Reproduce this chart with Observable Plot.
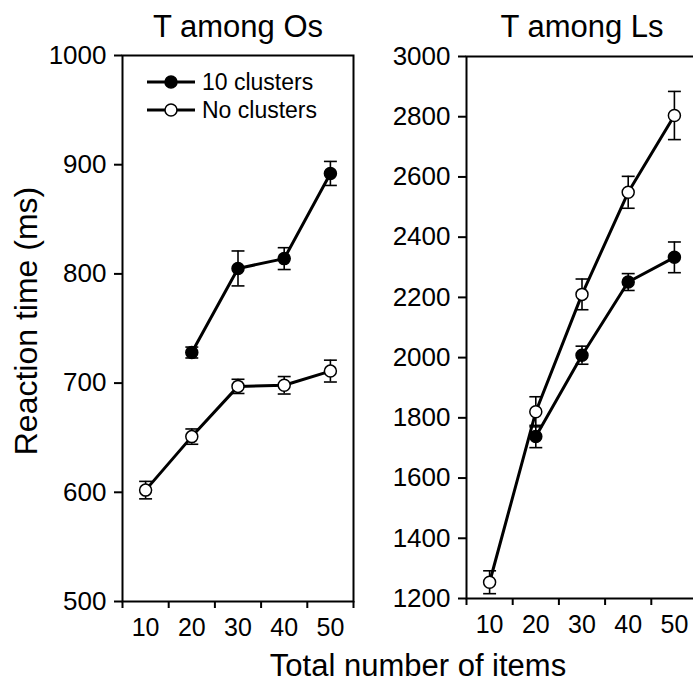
<!DOCTYPE html>
<html>
<head>
<meta charset="utf-8">
<script src="https://cdn.jsdelivr.net/npm/d3@7"></script>
<script src="https://cdn.jsdelivr.net/npm/@observablehq/plot@0.6"></script>
<style>
  html, body { margin: 0; padding: 0; background: #fff; overflow: hidden; }
  #wrap { position: relative; width: 693px; height: 685px; overflow: hidden; font-family: "Liberation Sans", Arial, Helvetica, sans-serif; color: #000; }
  .abs { position: absolute; }
  .ptitle { font-size: 31px; line-height: 1; transform: translateX(-50%); white-space: nowrap; }
  #ytitle { font-size: 32px; line-height: 1; white-space: nowrap; transform: translate(-50%, -50%) rotate(-90deg); }
  #xtitle { font-size: 31px; line-height: 1; white-space: nowrap; transform: translate(-50%, -50%); }
  #p1, #p2 { width: 370px; height: 640px; }
  #p1 svg, #p2 svg { max-width: none; }
</style>
</head>
<body>
<div id="wrap">
  <div class="abs" id="p1" style="left:0; top:0;"></div>
  <div class="abs" id="p2" style="left:344px; top:0;"></div>
  <div class="abs" id="legend" style="left:0; top:0;"></div>
  <div class="abs ptitle" style="left:238px; top:11px;">T among Os</div>
  <div class="abs ptitle" style="left:582px; top:11px;">T among Ls</div>
  <div class="abs" id="ytitle" style="left:26px; top:321px;">Reaction time (ms)</div>
  <div class="abs" id="xtitle" style="left:418px; top:665px;">Total number of items</div>
</div>
<script>
// ---- data ----
const items = [10, 20, 30, 40, 50];
const seriesNames = ["10 clusters", "No clusters"];
const seriesFill = ["black", "white"];

const osClusters    = [null, 728, 805, 814, 892];
const osClustersErr = [null, 5, 16, 10, 11];
const osNone        = [602, 651, 697, 698, 711];
const osNoneErr     = [8, 7, 6.5, 8, 10];

const lsClusters    = [null, 1738, 2008, 2251, 2333];
const lsClustersErr = [null, 37, 30, 28, 51];
const lsNone        = [1254, 1820, 2210, 2549, 2804];
const lsNoneErr     = [38, 50, 51, 53, 80];

const xEdgeTicks = [5, 15, 25, 35, 45, 55];
const osYTicks = [500, 600, 700, 800, 900, 1000];
const lsYTicks = [1200, 1400, 1600, 1800, 2000, 2200, 2400, 2600, 2800, 3000];

function rows(vals, errs, s) {
  return items.map((x, i) => ({x, y: vals[i], e: errs[i], s}))
              .filter(d => d.y != null);
}

function panel(data, yDomain, yTicks, mt, mb) {
  const capHalf = 1.4;
  return Plot.plot({
    width: 370, height: 640,
    marginLeft: 122, marginRight: 17, marginTop: mt, marginBottom: mb,
    style: {fontFamily: '"Liberation Sans", Arial, sans-serif', color: "black", background: "transparent", overflow: "visible", maxWidth: "none"},
    x: {domain: [5, 55]},
    y: {domain: yDomain},
    marks: [
      Plot.axisY({ticks: yTicks, tickSize: 8, tickPadding: 8, fontSize: 26, strokeWidth: 2, tickFormat: d => String(d), label: null}),
      Plot.axisX({ticks: xEdgeTicks, tickSize: 7, strokeWidth: 2, tickFormat: () => "", label: null}),
      Plot.axisX({ticks: items, tickSize: 0, tickPadding: 17, fontSize: 25, tickFormat: d => String(d), label: null}),
      Plot.frame({stroke: "black", strokeWidth: 2}),
      Plot.line(data, {x: "x", y: "y", z: "s", stroke: "black", strokeWidth: 3}),
      Plot.ruleX(data, {x: "x", y1: d => d.y - d.e, y2: d => d.y + d.e, stroke: "black", strokeWidth: 1.6}),
      Plot.link(data, {x1: d => d.x - capHalf, x2: d => d.x + capHalf, y1: d => d.y + d.e, y2: d => d.y + d.e, stroke: "black", strokeWidth: 1.6}),
      Plot.link(data, {x1: d => d.x - capHalf, x2: d => d.x + capHalf, y1: d => d.y - d.e, y2: d => d.y - d.e, stroke: "black", strokeWidth: 1.6}),
      Plot.dot(data, {x: "x", y: "y", r: 6, fill: d => seriesFill[seriesNames.indexOf(d.s)], stroke: "black", strokeWidth: 1.5})
    ]
  });
}

const osData = [...rows(osClusters, osClustersErr, seriesNames[0]), ...rows(osNone, osNoneErr, seriesNames[1])];
const lsData = [...rows(lsClusters, lsClustersErr, seriesNames[0]), ...rows(lsNone, lsNoneErr, seriesNames[1])];

document.getElementById("p1").appendChild(panel(osData, [500, 1000], osYTicks, 55, 39));
document.getElementById("p2").appendChild(panel(lsData, [1200, 3000], lsYTicks, 56, 42));

// ---- legend ----
const lg = d3.create("svg").attr("width", 360).attr("height", 140).style("overflow", "visible");
seriesNames.forEach((name, i) => {
  const y = 82 + i * 28;
  lg.append("line").attr("x1", 147).attr("x2", 195).attr("y1", y).attr("y2", y)
    .attr("stroke", "black").attr("stroke-width", 3);
  lg.append("circle").attr("cx", 171).attr("cy", y).attr("r", 6)
    .attr("fill", seriesFill[i]).attr("stroke", "black").attr("stroke-width", 1.5);
  lg.append("text").attr("x", 202).attr("y", y).attr("dy", "0.35em")
    .attr("font-size", 23).attr("font-family", '"Liberation Sans", Arial, sans-serif')
    .attr("fill", "black").text(name);
});
document.getElementById("legend").appendChild(lg.node());
</script>
</body>
</html>
